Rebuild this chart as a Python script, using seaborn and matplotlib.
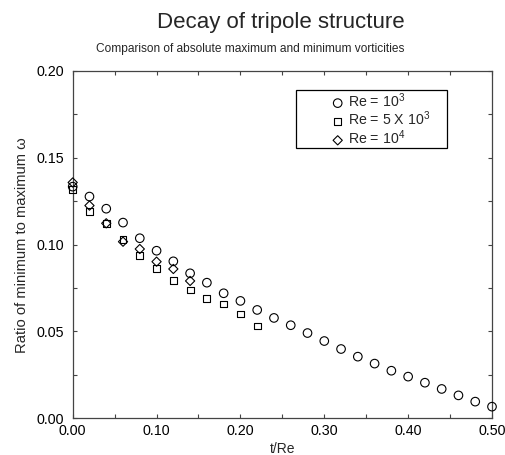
import numpy as np
import pandas as pd
import matplotlib
matplotlib.use("Agg")
import matplotlib.pyplot as plt
from matplotlib.ticker import MultipleLocator, FormatStrFormatter
import seaborn as sns

# ---------------------------
# data
# ---------------------------
t_re3 = [0.00, 0.02, 0.04, 0.06, 0.08, 0.10, 0.12, 0.14, 0.16, 0.18, 0.20, 0.22, 0.24,
         0.26, 0.28, 0.30, 0.32, 0.34, 0.36, 0.38, 0.40, 0.42, 0.44, 0.46, 0.48, 0.50]
ratio_re3 = [0.1334, 0.1277, 0.1207, 0.1127, 0.1037, 0.0965, 0.0904, 0.0835, 0.0781,
             0.0720, 0.0676, 0.0624, 0.0578, 0.0536, 0.0491, 0.0445, 0.0399, 0.0355,
             0.0315, 0.0274, 0.0240, 0.0205, 0.0169, 0.0132, 0.0096, 0.0067]

t_re5e3 = [0.00, 0.02, 0.04, 0.06, 0.08, 0.10, 0.12, 0.14, 0.16, 0.18, 0.20, 0.22]
ratio_re5e3 = [0.1319, 0.1190, 0.1123, 0.1031, 0.0937, 0.0864, 0.0793, 0.0739,
               0.0689, 0.0658, 0.0601, 0.0532]

t_re4 = [0.00, 0.02, 0.04, 0.06, 0.08, 0.10, 0.12, 0.14]
ratio_re4 = [0.1358, 0.1225, 0.1123, 0.1017, 0.0975, 0.0902, 0.0860, 0.0791]

labels = [r"Re = 10$^3$", r"Re = 5 X 10$^3$", r"Re = 10$^4$"]

# ---------------------------
# style
# ---------------------------
sns.set_theme(style="ticks")
plt.rcParams["font.family"] = ["Liberation Sans", "DejaVu Sans"]
plt.rcParams["mathtext.default"] = "regular"

fig = plt.figure(figsize=(5.06, 4.55), dpi=100)
ax = fig.add_axes([72.7 / 506, 1 - 418.3 / 455, (492 - 72.7) / 506, (418.3 - 71) / 455])

series = [(t_re3, ratio_re3, "o", 38, labels[0]),
          (t_re5e3, ratio_re5e3, "s", 24, labels[1]),
          (t_re4, ratio_re4, "D", 22, labels[2])]
for xs, ys, mk, size, lab in series:
    sns.scatterplot(x=xs, y=ys, marker=mk, s=size, facecolors="none",
                    edgecolor="black", linewidth=0.8, label=lab, ax=ax,
                    clip_on=False, zorder=3)

ax.set_xlim(0, 0.5)
ax.set_ylim(0, 0.2)
ax.xaxis.set_major_locator(MultipleLocator(0.1))
ax.xaxis.set_minor_locator(MultipleLocator(0.05))
ax.yaxis.set_major_locator(MultipleLocator(0.05))
ax.yaxis.set_minor_locator(MultipleLocator(0.025))
ax.xaxis.set_major_formatter(FormatStrFormatter("%.2f"))
ax.yaxis.set_major_formatter(FormatStrFormatter("%.2f"))

ax.tick_params(which="both", direction="in", top=True, right=True,
               color="#444444", labelsize=10.3, labelcolor="black")
ax.tick_params(which="major", length=3.2, width=0.8)
ax.tick_params(which="minor", length=2.6, width=0.8)
ax.tick_params(axis="x", which="major", pad=4)
ax.tick_params(axis="y", which="major", pad=6.5)
for sp in ax.spines.values():
    sp.set_visible(True)
    sp.set_color("#444444")
    sp.set_linewidth(0.9)

ax.set_xlabel("t/Re", fontsize=10, labelpad=3)
ax.set_ylabel("Ratio of minimum to maximum \u03c9", fontsize=10.6, labelpad=5)

leg = ax.legend(loc="upper left", bbox_to_anchor=(0.533, 0.784, 0.36, 0.161),
                mode="expand", borderaxespad=0, fontsize=10.2, frameon=True,
                fancybox=False, framealpha=1, edgecolor="black",
                handlelength=5.7, handletextpad=-2.15, labelspacing=0.0,
                borderpad=0.08, scatterpoints=1)
leg.get_frame().set_linewidth(0.9)

fig.text(281 / 506, 1 - 28 / 455, "Decay of tripole structure",
         ha="center", va="baseline", fontsize=16)
fig.text(250 / 506, 1 - 52 / 455, "Comparison of absolute maximum and minimum vorticities",
         ha="center", va="baseline", fontsize=8.6)

fig.savefig("out.png", dpi=100)
